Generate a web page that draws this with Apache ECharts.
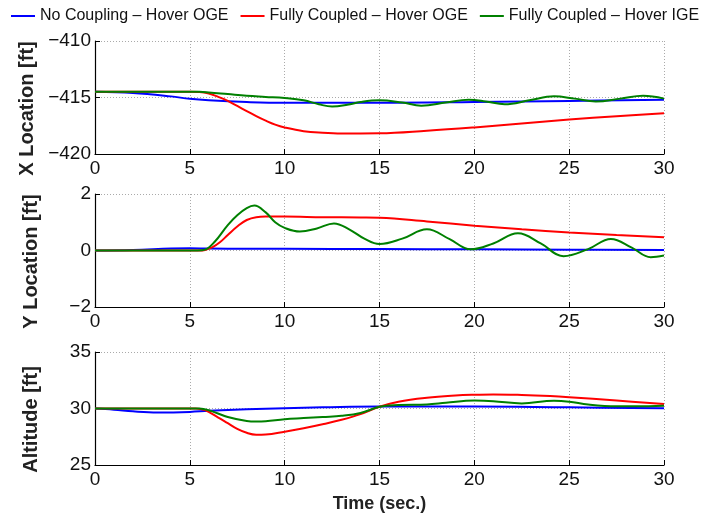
<!DOCTYPE html>
<html>
<head>
<meta charset="utf-8">
<script src="https://cdn.jsdelivr.net/npm/echarts@6/dist/echarts.min.js"></script>
<style>
html,body{margin:0;padding:0;background:#fff;}
#chart{width:720px;height:521px;}
</style>
</head>
<body>
<div id="chart"></div>
<script>
// ---- Legend / series names ----
var seriesNames = ['No Coupling \u2013 Hover OGE', 'Fully Coupled \u2013 Hover OGE', 'Fully Coupled \u2013 Hover IGE'];
var seriesColors = ['#0000ff', '#ff0000', '#008000'];

// ---- X Location [ft] ----
var xBlueT = [0, 2, 4, 5, 6, 8, 10, 15, 20, 25, 30];
var xBlueV = [-414.5, -414.6, -414.9, -415.12, -415.25, -415.4, -415.47, -415.47, -415.4, -415.3, -415.2];
var xRedT = [0, 5, 5.5, 6, 6.5, 7, 7.5, 8, 8.5, 9, 9.5, 10, 11, 12, 13, 15, 17.5, 20, 22.5, 25, 27.5, 30];
var xRedV = [-414.5, -414.5, -414.52, -414.65, -414.95, -415.3, -415.75, -416.2, -416.65, -417.05, -417.4, -417.65, -417.98, -418.12, -418.18, -418.17, -417.95, -417.65, -417.3, -416.95, -416.65, -416.4];
var xGreenT = [0, 5, 5.5, 6, 7, 8, 9, 10, 11, 11.8, 12.5, 13.3, 14, 15, 16.2, 17.2, 18.5, 19.7, 20.6, 21.6, 22.9, 24.2, 25.3, 26.4, 27.7, 28.9, 30];
var xGreenV = [-414.5, -414.5, -414.5, -414.55, -414.7, -414.85, -414.95, -415.05, -415.25, -415.6, -415.8, -415.65, -415.4, -415.25, -415.45, -415.72, -415.45, -415.2, -415.35, -415.6, -415.25, -414.9, -415.1, -415.35, -415.1, -414.85, -415.1];

// ---- Y Location [ft] ----
var yBlueT = [0, 2, 4, 5, 6, 8, 10, 15, 20, 25, 30];
var yBlueV = [0, 0.02, 0.07, 0.08, 0.07, 0.06, 0.06, 0.05, 0.04, 0.03, 0.02];
var yRedT = [0, 5.5, 5.8, 6.2, 6.6, 7, 7.5, 8, 8.5, 9, 10, 12, 14, 15, 17.5, 20, 22.5, 25, 27.5, 30];
var yRedV = [0, 0, 0.02, 0.12, 0.3, 0.55, 0.85, 1.08, 1.18, 1.2, 1.2, 1.18, 1.17, 1.16, 1.03, 0.88, 0.75, 0.64, 0.55, 0.47];
var yGreenT = [0, 5.4, 5.8, 6.3, 7, 7.5, 8, 8.4, 9, 9.5, 10, 10.8, 11.7, 12.6, 13.4, 14.2, 15.0, 16.2, 17.5, 18.7, 19.8, 21.0, 22.3, 23.5, 24.7, 26.0, 27.2, 28.3, 29.3, 30];
var yGreenV = [0, 0, 0.03, 0.3, 0.9, 1.25, 1.5, 1.59, 1.35, 1.0, 0.8, 0.67, 0.78, 0.96, 0.75, 0.42, 0.23, 0.42, 0.75, 0.4, 0.04, 0.25, 0.61, 0.25, -0.2, 0.05, 0.41, 0.1, -0.24, -0.18];

// ---- Altitude [ft] ----
var aBlueT = [0, 1, 2, 3.3, 5, 6, 8, 10, 12, 15, 20, 25, 30];
var aBlueV = [30, 29.9, 29.75, 29.65, 29.7, 29.8, 29.93, 30.03, 30.1, 30.17, 30.17, 30.1, 30.03];
var aRedT = [0, 5.3, 5.8, 6.5, 7, 7.5, 8, 8.5, 9, 10, 11, 12, 13, 14, 15, 16, 17.5, 19, 20, 21, 22.5, 24, 25, 27.5, 30];
var aRedV = [30, 30, 29.85, 29.2, 28.7, 28.2, 27.85, 27.68, 27.7, 27.95, 28.25, 28.6, 29.0, 29.5, 30.15, 30.6, 30.95, 31.15, 31.22, 31.25, 31.2, 31.1, 31.0, 30.7, 30.4];
var aGreenT = [0, 5.5, 6, 7, 8, 8.5, 9, 10, 11, 12, 13, 14, 15, 16, 17.5, 18.5, 20, 21, 22.5, 24.2, 25, 26, 27.5, 28.5, 30];
var aGreenV = [30, 30, 29.85, 29.25, 28.9, 28.85, 28.88, 29.05, 29.15, 29.25, 29.35, 29.6, 30.15, 30.3, 30.35, 30.5, 30.7, 30.65, 30.45, 30.68, 30.6, 30.35, 30.2, 30.2, 30.25];

// ---- Axis settings ----
var xTicks = [0, 5, 10, 15, 20, 25, 30];
var yNames = ['X Location [ft]', 'Y Location [ft]', 'Altitude [ft]'];
var yMins = [-420, -2, 25];
var yMaxs = [-410, 2, 35];
var yIntervals = [5, 2, 5];
var xName = 'Time (sec.)';

function zip(t, v) { return t.map(function (x, i) { return [x, v[i]]; }); }

var FONT = 'Liberation Sans, Arial, Helvetica, sans-serif';
var gridTops = [41, 194, 352];
var grids = [], xAxes = [], yAxes = [], series = [];
var allData = [
  [[xBlueT, xBlueV], [xRedT, xRedV], [xGreenT, xGreenV]],
  [[yBlueT, yBlueV], [yRedT, yRedV], [yGreenT, yGreenV]],
  [[aBlueT, aBlueV], [aRedT, aRedV], [aGreenT, aGreenV]]
];

for (var k = 0; k < 3; k++) {
  grids.push({ left: 95, right: 56, top: gridTops[k], height: 113, containLabel: false });
  xAxes.push({
    type: 'value', gridIndex: k, min: 0, max: 30, interval: 5,
    name: k === 2 ? xName : '', nameLocation: 'middle', nameGap: 30,
    nameTextStyle: { fontFamily: FONT, fontSize: 18, fontWeight: 'bold', color: '#222' },
    axisLine: { show: true, onZero: false, lineStyle: { color: '#000', width: 1.2 } },
    axisTick: { show: true, inside: true, length: 5, lineStyle: { color: '#000' } },
    axisLabel: { fontFamily: FONT, fontSize: 19, color: '#111', margin: 5 },
    splitLine: { show: true, lineStyle: { color: '#aaa', type: [1, 2], width: 1 } }
  });
  yAxes.push({
    type: 'value', gridIndex: k, min: yMins[k], max: yMaxs[k], interval: yIntervals[k],
    name: yNames[k], nameLocation: 'middle', nameGap: 54, nameRotate: 90,
    nameTextStyle: { fontFamily: FONT, fontSize: 20, fontWeight: 'bold', color: '#222', padding: [0, 22, 0, 0] },
    axisLine: { show: true, onZero: false, lineStyle: { color: '#000', width: 1.2 } },
    axisTick: { show: true, inside: true, length: 5, lineStyle: { color: '#000' } },
    axisLabel: {
      fontFamily: FONT, fontSize: 19, color: '#111', margin: 4,
      formatter: function (v) { return String(v).replace('-', '\u2212'); }
    },
    splitLine: { show: true, lineStyle: { color: '#aaa', type: [1, 2], width: 1 } }
  });
  for (var s = 0; s < 3; s++) {
    series.push({
      type: 'line', name: seriesNames[s], xAxisIndex: k, yAxisIndex: k,
      data: zip(allData[k][s][0], allData[k][s][1]),
      smooth: 0.4, symbol: 'none', showSymbol: false,
      lineStyle: { color: seriesColors[s], width: 2 },
      itemStyle: { color: seriesColors[s] },
      animation: false
    });
  }
}

var chart = echarts.init(document.getElementById('chart'), null, { renderer: 'canvas' });
chart.setOption({
  animation: false,
  backgroundColor: '#fff',
  legend: {
    data: seriesNames, top: 3, left: 6, itemGap: 12, itemWidth: 24, itemHeight: 2,
    icon: 'rect',
    textStyle: { fontFamily: FONT, fontSize: 16, color: '#111' }
  },
  grid: grids, xAxis: xAxes, yAxis: yAxes, series: series
});
</script>
</body>
</html>
